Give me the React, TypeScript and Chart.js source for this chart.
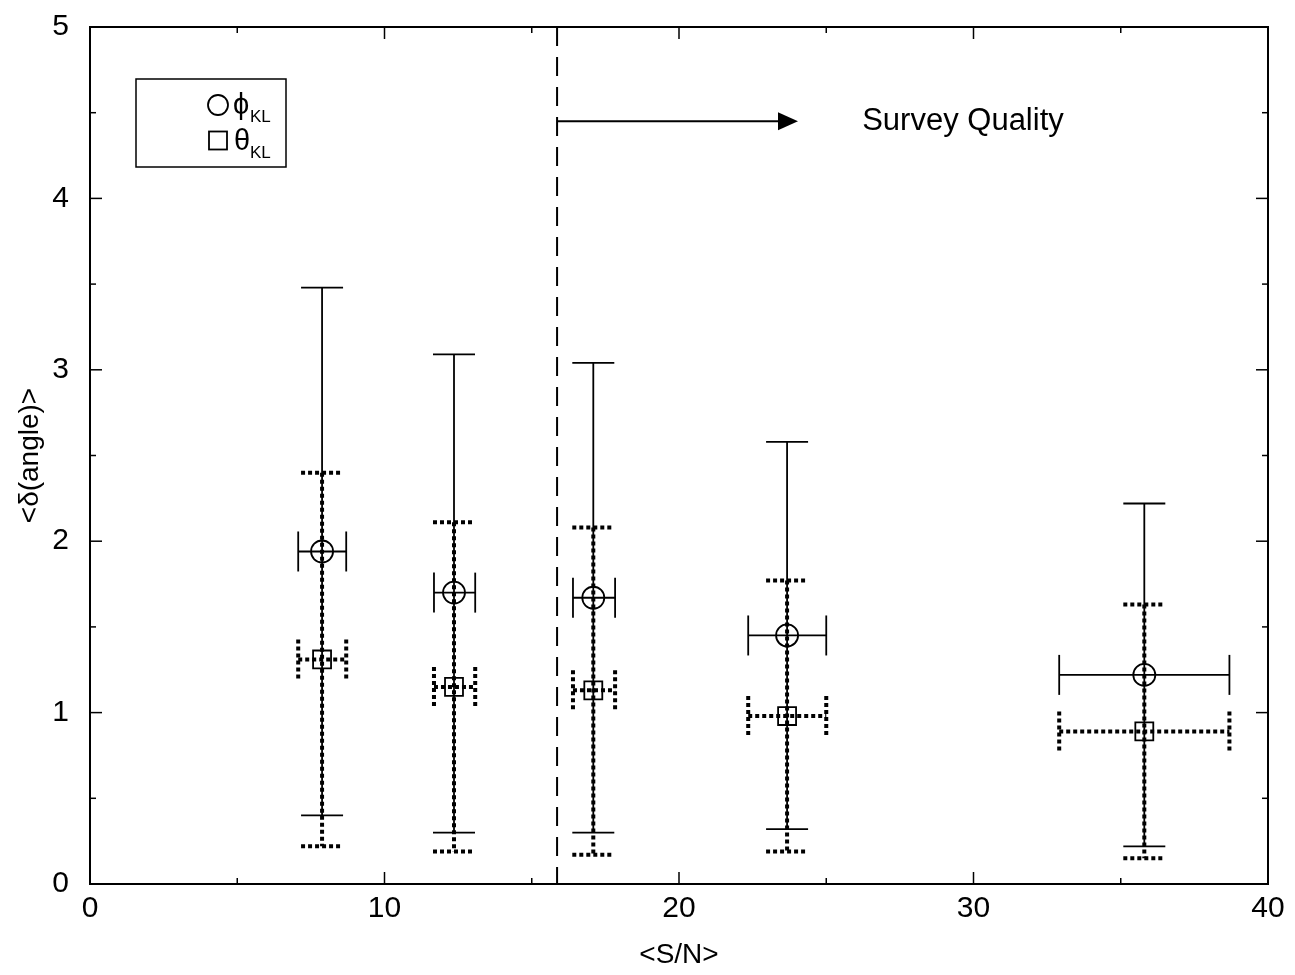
import { useEffect, useRef } from "react";
import { Chart, registerables } from "chart.js";

Chart.register(...registerables);

// S/N bins (centre and horizontal error range)
const snr = [7.88, 12.36, 17.09, 23.67, 35.8];
const snrLow = [7.07, 11.68, 16.4, 22.35, 32.91];
const snrHigh = [8.7, 13.08, 17.83, 25.0, 38.69];

// phi_KL: mean and vertical range
const phiMean = [1.94, 1.7, 1.67, 1.45, 1.22];
const phiLow = [0.4, 0.3, 0.3, 0.32, 0.22];
const phiHigh = [3.48, 3.09, 3.04, 2.58, 2.22];

// theta_KL: mean and vertical range
const thetaMean = [1.31, 1.15, 1.13, 0.98, 0.89];
const thetaLow = [0.22, 0.19, 0.17, 0.19, 0.15];
const thetaHigh = [2.4, 2.11, 2.08, 1.77, 1.63];

const xTicks = [0, 10, 20, 30, 40];
const xMinor = [5, 15, 25, 35];
const yTicks = [0, 1, 2, 3, 4, 5];
const yMinor = [0.5, 1.5, 2.5, 3.5, 4.5];

const surveyCut = 15.86;
const arrowEnd = 24.04;
const arrowLevel = 4.45;

const FONT = "'Liberation Sans', Arial, Helvetica, sans-serif";

const seg = (ctx: any, x1: number, y1: number, x2: number, y2: number) => {
  ctx.beginPath();
  ctx.moveTo(x1, y1);
  ctx.lineTo(x2, y2);
  ctx.stroke();
};

const drawErrors = (ctx: any, x: any, y: any, mean: number[], low: number[], high: number[], dotted: boolean) => {
  ctx.save();
  ctx.strokeStyle = "#000";
  if (dotted) {
    ctx.lineWidth = 4;
    ctx.setLineDash([4, 3]);
  } else {
    ctx.lineWidth = 1.8;
    ctx.setLineDash([]);
  }
  snr.forEach((sx, i) => {
    const px = x.getPixelForValue(sx);
    const py = y.getPixelForValue(mean[i]);
    const top = y.getPixelForValue(high[i]);
    const bot = y.getPixelForValue(low[i]);
    const l = x.getPixelForValue(snrLow[i]);
    const r = x.getPixelForValue(snrHigh[i]);
    seg(ctx, px, top, px, bot);
    seg(ctx, px - 21, top, px + 21, top);
    seg(ctx, px - 21, bot, px + 21, bot);
    seg(ctx, l, py, r, py);
    seg(ctx, l, py - 20, l, py + 20);
    seg(ctx, r, py - 20, r, py + 20);
  });
  ctx.restore();
};

const overlay = {
  id: "overlay",
  beforeDatasetsDraw(chart: any) {
    const { ctx, chartArea: a } = chart;
    const x = chart.scales.x;
    const y = chart.scales.y;
    ctx.save();
    ctx.strokeStyle = "#000";
    ctx.lineWidth = 2;
    ctx.strokeRect(a.left, a.top, a.right - a.left, a.bottom - a.top);

    // inward ticks on all four sides
    ctx.lineWidth = 1.5;
    const xt = (v: number, len: number) => {
      const p = x.getPixelForValue(v);
      seg(ctx, p, a.bottom, p, a.bottom - len);
      seg(ctx, p, a.top, p, a.top + len);
    };
    const yt = (v: number, len: number) => {
      const p = y.getPixelForValue(v);
      seg(ctx, a.left, p, a.left + len, p);
      seg(ctx, a.right, p, a.right - len, p);
    };
    xTicks.forEach((v) => xt(v, 12));
    xMinor.forEach((v) => xt(v, 6));
    yTicks.forEach((v) => yt(v, 12));
    yMinor.forEach((v) => yt(v, 6));

    // survey quality cut
    const cx = x.getPixelForValue(surveyCut);
    ctx.lineWidth = 2;
    ctx.setLineDash([19, 11]);
    seg(ctx, cx, a.top, cx, a.bottom);
    ctx.setLineDash([]);

    const ay = y.getPixelForValue(arrowLevel);
    const ax = x.getPixelForValue(arrowEnd);
    seg(ctx, cx, ay, ax - 18, ay);
    ctx.fillStyle = "#000";
    ctx.beginPath();
    ctx.moveTo(ax, ay);
    ctx.lineTo(ax - 20, ay - 9);
    ctx.lineTo(ax - 20, ay + 9);
    ctx.closePath();
    ctx.fill();

    ctx.font = `31px ${FONT}`;
    ctx.textBaseline = "middle";
    ctx.textAlign = "left";
    ctx.fillText("Survey Quality", x.getPixelForValue(26.22), ay);

    // legend
    ctx.lineWidth = 1.5;
    ctx.strokeRect(136, 79, 150, 88);
    ctx.lineWidth = 1.8;
    ctx.beginPath();
    ctx.arc(218, 105, 10, 0, Math.PI * 2);
    ctx.stroke();
    ctx.strokeRect(209, 131.5, 18, 18);
    ctx.textBaseline = "alphabetic";
    ctx.font = `29px ${FONT}`;
    ctx.fillText("ϕ", 233, 114);
    ctx.fillText("θ", 234, 150);
    ctx.font = `17px ${FONT}`;
    ctx.fillText("KL", 250, 122);
    ctx.fillText("KL", 250, 158);
    ctx.restore();

    drawErrors(ctx, x, y, thetaMean, thetaLow, thetaHigh, true);
    drawErrors(ctx, x, y, phiMean, phiLow, phiHigh, false);
  },
};

const App = () => {
  const chartRef: any = useRef(null);
  useEffect(() => {
    document.body.style.margin = "0";
    const ctx = chartRef.current.getContext("2d");
    const theChart = new Chart(ctx, {
      type: "scatter",
      data: {
        datasets: [
          {
            label: "ϕKL",
            data: snr.map((v, i) => ({ x: v, y: phiMean[i] })),
            pointStyle: "circle",
            pointRadius: 11,
            pointBorderWidth: 1.8,
            pointBorderColor: "#000",
            pointBackgroundColor: "rgba(0,0,0,0)",
          },
          {
            label: "θKL",
            data: snr.map((v, i) => ({ x: v, y: thetaMean[i] })),
            pointStyle: "rect",
            pointRadius: 12.7,
            pointBorderWidth: 1.8,
            pointBorderColor: "#000",
            pointBackgroundColor: "rgba(0,0,0,0)",
          },
        ],
      },
      options: {
        animation: false,
        responsive: true,
        maintainAspectRatio: false,
        events: [],
        layout: { padding: { top: 27, right: 27, left: 0, bottom: 0 } },
        plugins: {
          legend: { display: false },
          tooltip: { enabled: false },
        },
        scales: {
          x: {
            type: "linear",
            min: 0,
            max: 40,
            afterBuildTicks: (s: any) => {
              s.ticks = xTicks.map((v) => ({ value: v }));
            },
            afterFit: (s: any) => {
              s.height = 91;
              s.paddingLeft = 0;
              s.paddingRight = 0;
            },
            grid: { display: false, drawTicks: false },
            border: { display: false },
            ticks: { color: "#000", padding: 7, font: { family: FONT, size: 30 } },
            title: {
              display: true,
              text: "<S/N>",
              color: "#000",
              padding: { top: 0, bottom: 3 },
              font: { family: FONT, size: 28 },
            },
          },
          y: {
            type: "linear",
            min: 0,
            max: 5,
            afterBuildTicks: (s: any) => {
              s.ticks = yTicks.map((v) => ({ value: v }));
            },
            afterFit: (s: any) => {
              s.width = 90;
              s.paddingTop = 0;
              s.paddingBottom = 0;
            },
            grid: { display: false, drawTicks: false },
            border: { display: false },
            ticks: { color: "#000", padding: 21, font: { family: FONT, size: 30 } },
            title: {
              display: true,
              text: "<δ(angle)>",
              color: "#000",
              padding: { top: 13, bottom: 0 },
              font: { family: FONT, size: 28 },
            },
          },
        },
      },
      plugins: [overlay],
    });
    return () => {
      theChart.destroy();
    };
  }, []);

  return (
    <div style={{ width: 1295, height: 975, position: "relative" }}>
      <canvas ref={chartRef} />
    </div>
  );
};

export default App;
